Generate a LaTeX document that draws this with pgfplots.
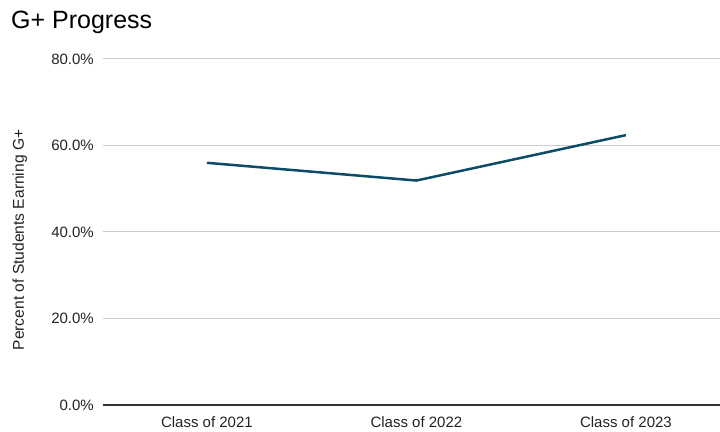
\documentclass[border=0pt]{standalone}
\usepackage{pgfplots}
\pgfplotsset{compat=1.18}
\usepackage{fontspec}
\setmainfont{Liberation Sans}
\definecolor{lineteal}{HTML}{0D4C66}
\definecolor{gridgray}{HTML}{CCCCCC}
\definecolor{axisdark}{HTML}{333333}
\definecolor{labeltext}{HTML}{222222}

\begin{document}
\begin{tikzpicture}
\path[use as bounding box] (-103pt,-26pt) rectangle (617pt,405pt);
\begin{axis}[
  at={(0,0)}, anchor=south west,
  scale only axis, width=617pt, height=346pt,
  xmin=-0.496, xmax=2.449, ymin=0, ymax=80,
  xtick={0,1,2},
  xticklabels={Class of 2021, Class of 2022, Class of 2023},
  ytick={0,20,40,60,80},
  yticklabels={0.0\%,20.0\%,40.0\%,60.0\%,80.0\%},
  axis line style={draw=none},
  major tick length=0pt,
  tick style={draw=none},
  ymajorgrids,
  grid style={gridgray, line width=1pt},
  ticklabel style={font=\fontsize{15}{18}\selectfont, text=labeltext, inner sep=0pt},
  yticklabel style={anchor=east, xshift=-9pt},
  xticklabel style={anchor=base, yshift=-22pt},
  clip=false,
]
\addplot[lineteal, line width=2.5pt, line join=round] coordinates {(0,56.0) (1,51.9) (2,62.4)};
\draw[axisdark, line width=1.2pt] (rel axis cs:0,0) -- (rel axis cs:1,0);
\end{axis}
\node[anchor=base west, inner sep=0pt, font=\fontsize{25}{29}\selectfont] at (-92pt,376.7pt) {G+ Progress};
\node[rotate=90, anchor=base, inner sep=0pt, font=\fontsize{15.6}{18}\selectfont, text=labeltext] at (-79pt,165pt) {Percent of Students Earning G+};
\end{tikzpicture}
\end{document}
